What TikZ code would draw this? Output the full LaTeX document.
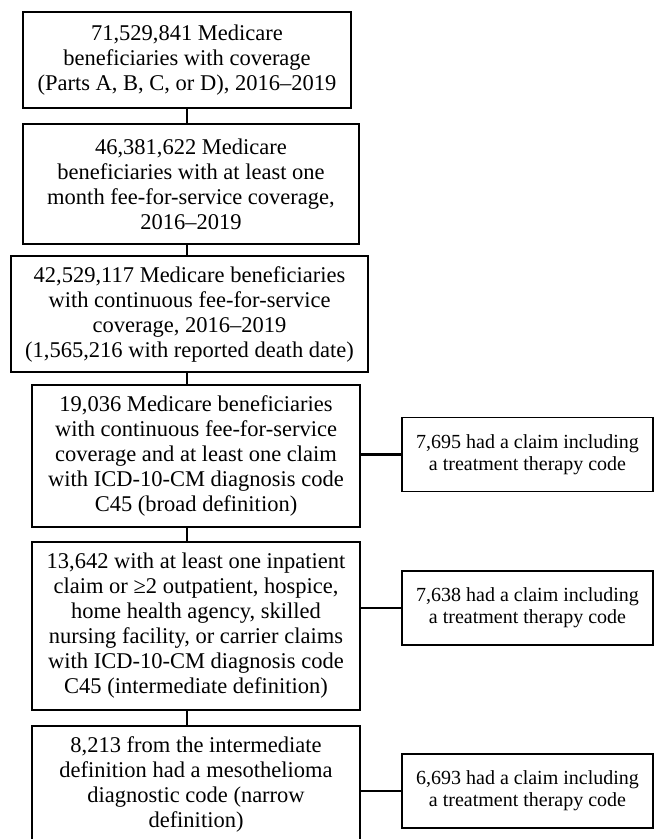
\documentclass[tikz,border=0pt]{standalone}
\usepackage{fontspec}
\setmainfont{Liberation Serif}
\usepackage{tikz}

\begin{document}
\begin{tikzpicture}[x=1pt, y=-1pt,
        stage/.style={draw, line width=1.9pt, align=center, inner sep=0pt, minimum width=328pt, font=\fontsize{22.5}{25}\selectfont},
        side/.style={draw, line width=1.9pt, align=center, inner sep=0pt, minimum width=251pt, minimum height=74pt, font=\fontsize{20}{22}\selectfont},
        link/.style={line width=2.2pt}]
        \useasboundingbox (0,0) rectangle (654,839);
        \coordinate (spine) at (187,0);
        \node[stage, minimum height=96pt] (b1) at (187,60) {71,529,841 Medicare\\beneficiaries with coverage\\(Parts A, B, C, or D), 2016--2019};
        \node[stage, minimum width=336pt, minimum height=120pt] (b2) at (191,184) {46,381,622 Medicare\\beneficiaries with at least one\\month fee-for-service coverage,\\2016--2019};
        \node[stage, minimum width=357pt, minimum height=116pt] (b3) at (189.5,314) {42,529,117 Medicare beneficiaries\\with continuous fee-for-service\\coverage, 2016--2019\\(1,565,216 with reported death date)};
        \node[stage, minimum height=142pt] (b4) at (196,456) {19,036 Medicare beneficiaries\\with continuous fee-for-service\\coverage and at least one claim\\with ICD-10-CM diagnosis code\\C45 (broad definition)};
        \node[stage, minimum height=168pt] (b5) at (196,626) {13,642 with at least one inpatient\\claim or ≥2 outpatient, hospice,\\home health agency, skilled\\nursing facility, or carrier claims\\with ICD-10-CM diagnosis code\\C45 (intermediate definition)};
        \node[stage, minimum height=116pt] (b6) at (196,784) {8,213 from the intermediate\\definition had a mesothelioma\\diagnostic code (narrow\\definition)};
        \node[side] (r1) at (527.5,454.5) {7,695 had a claim including\\a treatment therapy code};
        \node[side] (r2) at (527.5,608) {7,638 had a claim including\\a treatment therapy code};
        \node[side] (r3) at (527.5,791) {6,693 had a claim including\\a treatment therapy code};
        \foreach \a/\b in {b1/b2,b2/b3,b3/b4,b4/b5,b5/b6} {
            \draw[link] (\a.south -| spine) -- (\b.north -| spine);
        }
        \foreach \a/\b in {b4/r1,b5/r2,b6/r3} {
            \draw[link] (\a.east |- \b.west) -- (\b.west);
        }
    \end{tikzpicture}
\end{document}
